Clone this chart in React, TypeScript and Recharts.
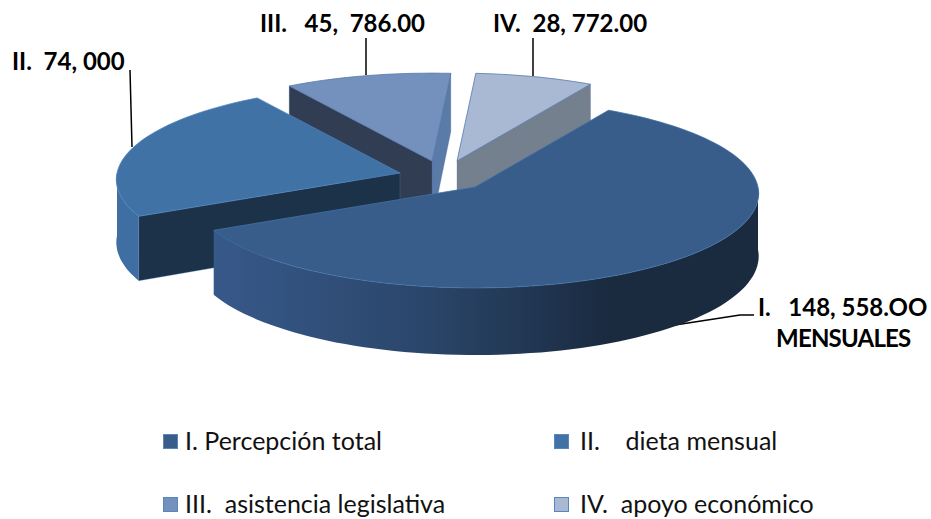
import { Legend, Pie, PieChart } from "recharts";

// Shares of the drawn slices (%), not the typed amounts.
const sliceNames = ["IV", "III", "II", "I"];
const sliceShares = [7.2, 10.1, 23.4, 59.3];

const legendLabels = [
  "I. Percepción total",
  "II.    dieta mensual",
  "III.  asistencia legislativa",
  "IV.  apoyo económico",
];
const legendColors = ["#385D8A", "#4172A6", "#7491BE", "#A9B8D3"];

const amountLabels = ["I.   148, 558.OO", "MENSUALES", "II.  74, 000", "III.   45,  786.00", "IV.  28, 772.00"];

const WIDTH = 931;
const HEIGHT = 519;
const FONT = "Lato, 'Open Sans', sans-serif";

const TILT = 0.332;
const PERSPECTIVE = 0.069;
const DEPTH = 62.5;

interface SliceStyle {
  dx: number;
  dy: number;
  top: string;
  outer: string;
  wallLo: string;
  wallHi: string;
  edge: string;
}

const styles: Record<string, SliceStyle> = {
  I: { dx: 35, dy: 14, top: "#385D8A", outer: "url(#wallOne)", wallLo: "#2B4768", wallHi: "#2B4768", edge: "#4373A8" },
  II: { dx: -40, dy: 0, top: "#4172A6", outer: "#3F6EA2", wallLo: "#1C3249", wallHi: "#1C3249", edge: "#4F81BD" },
  III: { dx: -8, dy: -12, top: "#7491BE", outer: "#5D7CA8", wallLo: "#5A7AA8", wallHi: "#303D52", edge: "#4F75A8" },
  IV: { dx: 17, dy: -12, top: "#A9B8D3", outer: "#75808F", wallLo: "#75808F", wallHi: "#75808F", edge: "#4F75A8" },
};

function project(cx: number, cy: number, r: number, deg: number, drop: number) {
  const t = (deg * Math.PI) / 180;
  const w = 1 + PERSPECTIVE * Math.sin(t);
  return {
    x: cx + (r * Math.cos(t)) / w,
    y: cy - (r * TILT * Math.sin(t)) / w + (drop ? drop / w : 0),
  };
}

function toPath(pts: { x: number; y: number }[]) {
  return pts.map((p, i) => `${i ? "L" : "M"}${p.x.toFixed(1)} ${p.y.toFixed(1)}`).join(" ") + " Z";
}

// Draws one slice as a block: hidden faces are skipped, the top goes on last.
function Slice(props: any) {
  const { cx, cy, outerRadius, startAngle, endAngle, payload } = props;
  const s = styles[payload.name];
  const ox = cx + s.dx;
  const oy = cy + s.dy;
  const lo = Math.min(startAngle, endAngle);
  const hi = Math.max(startAngle, endAngle);

  const arc: number[] = [];
  for (let a = lo; a < hi; a += 2) arc.push(a);
  arc.push(hi);

  const topPts = arc.map((a) => project(ox, oy, outerRadius, a, 0));
  const lowPts = arc.map((a) => project(ox, oy, outerRadius, a, DEPTH));
  const apex = { x: ox, y: oy };
  const apexLow = { x: ox, y: oy + DEPTH };

  // only the part of the rim that faces the viewer gets a wall
  const frontLo = Math.max(lo, 180);
  const frontHi = Math.min(hi, 360);
  const front: number[] = [];
  for (let a = frontLo; a < frontHi; a += 2) front.push(a);
  if (frontHi > frontLo) front.push(frontHi);
  const rimTop = front.map((a) => project(ox, oy, outerRadius, a, 0));
  const rimLow = front.map((a) => project(ox, oy, outerRadius, a, DEPTH));

  const cosOf = (a: number) => Math.cos((a * Math.PI) / 180);
  const showLo = cosOf(lo) > 0;
  const showHi = cosOf(hi) < 0;

  return (
    <g>
      {showLo && (
        <path
          d={toPath([apex, topPts[0], lowPts[0], apexLow])}
          fill={s.wallLo}
          stroke={s.edge}
          strokeOpacity={0.4}
          strokeWidth={0.75}
        />
      )}
      {showHi && (
        <path
          d={toPath([apex, topPts[topPts.length - 1], lowPts[lowPts.length - 1], apexLow])}
          fill={s.wallHi}
          stroke={s.edge}
          strokeOpacity={0.4}
          strokeWidth={0.75}
        />
      )}
      {front.length > 0 && (
        <path d={toPath([...rimTop, ...rimLow.slice().reverse()])} fill={s.outer} stroke="none" />
      )}
      <path d={toPath([apex, ...topPts])} fill={s.top} stroke={s.edge} strokeWidth={0.75} strokeLinejoin="round" />
    </g>
  );
}

function BlockLegend() {
  const rows = [
    { x: 163, y: 441, gap: 22 },
    { x: 554, y: 441, gap: 26 },
    { x: 163, y: 504, gap: 22 },
    { x: 554, y: 504, gap: 26 },
  ];
  return (
    <div style={{ position: "relative", width: WIDTH, height: HEIGHT }}>
      {legendLabels.map((label, i) => (
        <div key={label}>
          <div
            style={{
              position: "absolute",
              left: rows[i].x,
              top: rows[i].y - 7,
              width: 15,
              height: 15,
              boxSizing: "border-box",
              background: legendColors[i],
              border: "1px solid #5B86BD",
            }}
          />
          <div
            style={{
              position: "absolute",
              left: rows[i].x + rows[i].gap,
              top: rows[i].y - 16,
              fontFamily: FONT,
              fontSize: 25,
              lineHeight: "30px",
              color: "#111",
              whiteSpace: "pre",
            }}
          >
            {label}
          </div>
        </div>
      ))}
    </div>
  );
}

const pieData = sliceNames.map((name, i) => ({ name, value: sliceShares[i] }));

const labelStyle = { fontFamily: FONT, fontSize: 24, fontWeight: 700, fill: "#000", whiteSpace: "pre" } as const;

export default function App() {
  return (
    <div style={{ position: "absolute", left: 0, top: 0, width: WIDTH, height: HEIGHT, background: "#fff" }}>
      <PieChart width={WIDTH} height={HEIGHT} margin={{ top: 0, right: 0, bottom: 0, left: 0 }}>
        <defs>
          <linearGradient id="wallOne" x1="0" y1="0" x2="1" y2="0">
            <stop offset="0%" stopColor="#37598A" />
            <stop offset="40%" stopColor="#2A4569" />
            <stop offset="72%" stopColor="#1A2B40" />
            <stop offset="100%" stopColor="#1A2B3F" />
          </linearGradient>
        </defs>
        <Pie
          data={pieData}
          dataKey="value"
          nameKey="name"
          cx={440}
          cy={173}
          innerRadius={0}
          outerRadius={283}
          startAngle={60}
          endAngle={420}
          stroke="none"
          shape={Slice}
          isAnimationActive={false}
        />
        <g stroke="#000" strokeWidth={1.5} fill="none">
          <polyline points="130,70 132,147" />
          <polyline points="366,38 366,75" />
          <polyline points="533,38 533,76" />
          <polyline points="754,315 740,315 675,325" />
        </g>
        <text x={758} y={316} style={labelStyle}>{amountLabels[0]}</text>
        <text x={776} y={347} style={{ ...labelStyle, letterSpacing: -0.8 }}>{amountLabels[1]}</text>
        <text x={12} y={70} style={labelStyle}>{amountLabels[2]}</text>
        <text x={260} y={32} style={labelStyle}>{amountLabels[3]}</text>
        <text x={493} y={32} style={labelStyle}>{amountLabels[4]}</text>
        <Legend
          content={<BlockLegend />}
          wrapperStyle={{ position: "absolute", left: 0, top: 0, width: WIDTH, height: HEIGHT, pointerEvents: "none" }}
        />
      </PieChart>
    </div>
  );
}
